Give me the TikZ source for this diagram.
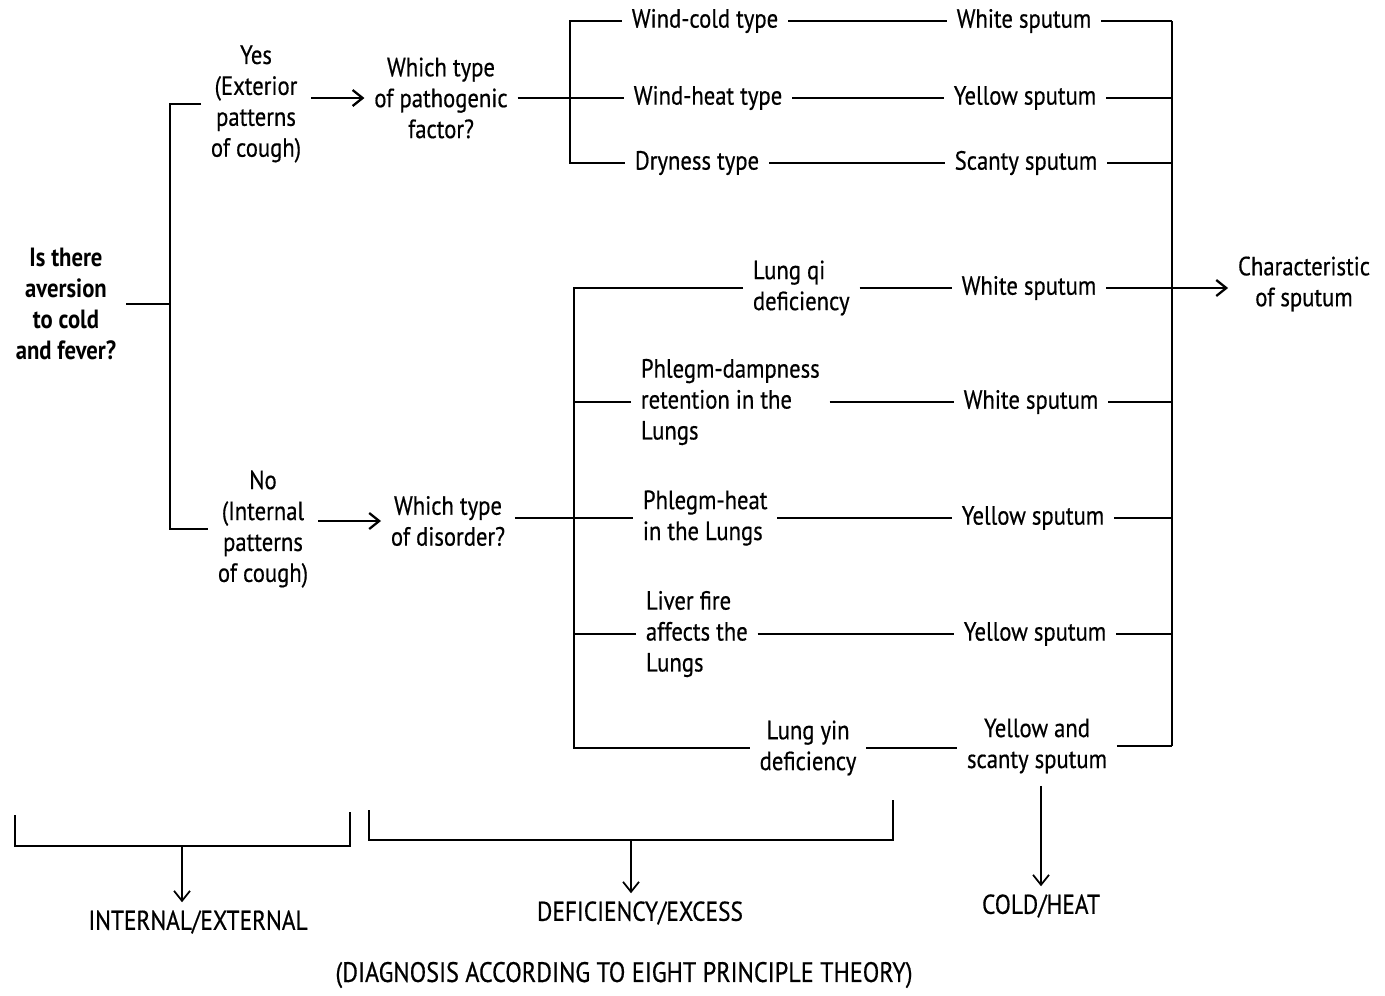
\documentclass[tikz,border=0pt]{standalone}
\usepackage{fontspec}
\setmainfont{PT Sans}[FakeStretch=0.86,UprightFeatures={FakeBold=0.5}]
\usetikzlibrary{arrows.meta}

\begin{document}
\begin{tikzpicture}[x=0.02cm,y=-0.02cm,line width=1.3pt,
    txt/.style={font=\fontsize{15}{17.6}\selectfont,align=center,inner sep=5pt},
    ltxt/.style={txt,align=left,anchor=west},
    qtxt/.style={txt,font=\fontsize{15}{17.6}\selectfont\bfseries},
    captxt/.style={font=\fontsize{15.5}{18}\selectfont,inner sep=4pt},
    arr/.style={-{Straight Barb[length=2mm,width=3.2mm]}},
    thinarr/.style={arr,line width=1pt}]
    \useasboundingbox (0,0) rectangle (1385,995);

    % Question and first split
    \node[qtxt] (q) at (66,304) {Is there\\aversion\\to cold\\and fever?};
    \node[txt] (yes) at (256,104) {Yes\\(Exterior\\patterns\\of cough)};
    \node[txt] (no) at (263,529) {No\\(Internal\\patterns\\of cough)};
    \coordinate (b1) at (170,0);
    \draw (q.east) -- (q.east -| b1);
    \draw (yes.west) -- (yes.west -| b1) -- (no.west -| b1) -- (no.west);

    % Second questions
    \node[txt] (path) at (441,98) {Which type\\of pathogenic\\factor?};
    \node[txt] (dis) at (448,521) {Which type\\of disorder?};
    \draw[arr] (yes.east |- path.west) -- (path.west);
    \draw[arr] (no.east |- dis.west) -- (dis.west);

    % Exterior patterns
    \node[txt] (wc) at (705,21) {Wind-cold type};
    \node[txt] (wh) at (708,98) {Wind-heat type};
    \node[txt] (dr) at (697,163) {Dryness type};
    \coordinate (b2) at (570,0);
    \draw (wc.west) -- (wc.west -| b2) -- (dr.west -| b2) -- (dr.west);
    \draw (path.east) -- (wh.west);

    % Internal patterns
    \node[ltxt] (lq) at (743,288) {Lung qi\\deficiency};
    \node[ltxt] (pd) at (631,402) {Phlegm-dampness\\retention in the\\Lungs};
    \node[ltxt] (ph) at (633,518) {Phlegm-heat\\in the Lungs};
    \node[ltxt] (lf) at (636,634) {Liver fire\\affects the\\Lungs};
    \node[txt] (ly) at (808,748) {Lung yin\\deficiency};
    \coordinate (b3) at (574,0);
    \draw (lq.west) -- (lq.west -| b3) -- (ly.west -| b3) -- (ly.west);
    \draw (pd.west) -- (pd.west -| b3);
    \draw (lf.west) -- (lf.west -| b3);
    \draw (dis.east |- ph.west) -- (ph.west);

    % Sputum
    \node[txt] (s1) at (1024,21) {White sputum};
    \node[txt] (s2) at (1025,98) {Yellow sputum};
    \node[txt] (s3) at (1026,163) {Scanty sputum};
    \node[txt] (s4) at (1029,288) {White sputum};
    \node[txt] (s5) at (1031,402) {White sputum};
    \node[txt] (s6) at (1033,518) {Yellow sputum};
    \node[txt] (s7) at (1035,634) {Yellow sputum};
    \node[txt] (s8) at (1037,746) {Yellow and\\scanty sputum};
    \draw (wc) -- (s1);
    \draw (wh) -- (s2);
    \draw (dr) -- (s3);
    \draw (lq.east) -- (s4.west);
    \draw (pd.east) -- (s5.west);
    \draw (ph.east) -- (s6.west);
    \draw (lf.east) -- (s7.west);
    \draw (ly.east) -- (s8.west |- ly.east);

    % Characteristic of sputum
    \coordinate (b4) at (1172,0);
    \foreach \s in {s1,s2,s3,s4,s5,s6,s7,s8}
    {
        \draw (\s.east) -- (\s.east -| b4);
    }
    \draw (s1.east -| b4) -- (s8.east -| b4);
    \node[txt] (ch) at (1304,284) {Characteristic\\of sputum};
    \draw[arr] (s4.east -| b4) -- (ch.west |- s4.east);

    % Eight principles
    \node[captxt] (ie) at (198,922) {INTERNAL/EXTERNAL};
    \node[captxt] (de) at (640,913) {DEFICIENCY/EXCESS};
    \node[captxt] (chh) at (1041,906) {COLD/HEAT};
    \draw[line width=1pt] (15,815) -- (15,846) -- (350,846) -- (350,812);
    \draw[line width=1pt] (369,810) -- (369,840) -- (893,840) -- (893,800);
    \coordinate (k1) at (182,846);
    \coordinate (k2) at (631,840);
    \draw[thinarr] (k1) -- (k1 |- ie.north);
    \draw[thinarr] (k2) -- (k2 |- de.north);
    \draw[thinarr,shorten <=0.5mm] (s8.south -| chh.north) -- (chh.north);
    \node[captxt,font=\fontsize{16}{18}\selectfont] (title) at (624,975) {(DIAGNOSIS ACCORDING TO EIGHT PRINCIPLE THEORY)};

\end{tikzpicture}
\end{document}
